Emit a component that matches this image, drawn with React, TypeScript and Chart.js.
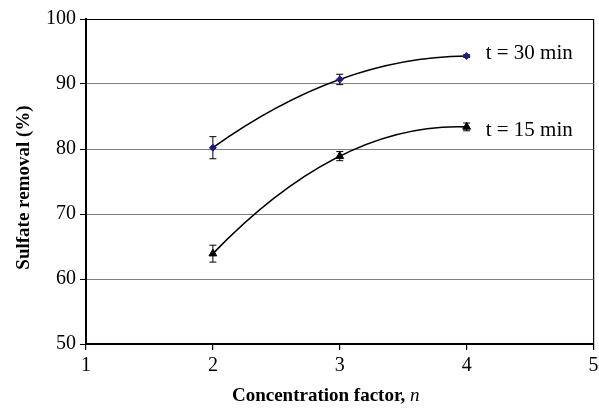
import React, { useEffect, useRef } from "react";
import { Chart, registerables } from "chart.js";

Chart.register(...registerables);

const concentrationFactors = [2, 3, 4];
const removal30 = [80.2, 90.7, 94.3];
const error30 = [1.7, 0.8, 0.2];
const removal15 = [63.9, 78.9, 83.4];
const error15 = [1.3, 0.7, 0.6];
const seriesLabels = ["t = 30 min", "t = 15 min"];
const xRange = [1, 5];
const yRange = [50, 100];
const xTitleMain = "Concentration factor, ";
const xTitleItalic = "n";
const yTitle = "Sulfate removal (%)";

const FONT = "'Liberation Serif', 'Times New Roman', serif";
const labelDy = [-3, 4];

// Second-order polynomial trendline through each series, drawn as one exact quadratic Bezier
const trendlinePlugin = {
  id: "trendline",
  beforeDatasetsDraw(chart: any) {
    const ctx = chart.ctx;
    const xs = chart.scales.x;
    const ys = chart.scales.y;
    chart.data.datasets.forEach((ds: any) => {
      const pts = ds.data;
      if (pts.length < 3) return;
      const [p0, p1, p2] = [pts[0], pts[Math.floor(pts.length / 2)], pts[pts.length - 1]];
      const d0 =
        p0.y * ((2 * p0.x - p1.x - p2.x) / ((p0.x - p1.x) * (p0.x - p2.x))) +
        p1.y * ((p0.x - p2.x) / ((p1.x - p0.x) * (p1.x - p2.x))) +
        p2.y * ((p0.x - p1.x) / ((p2.x - p0.x) * (p2.x - p1.x)));
      const cx = (p0.x + p2.x) / 2;
      const cy = p0.y + d0 * (cx - p0.x);
      ctx.save();
      ctx.strokeStyle = "#000";
      ctx.lineWidth = 1.6;
      ctx.beginPath();
      ctx.moveTo(xs.getPixelForValue(p0.x), ys.getPixelForValue(p0.y));
      ctx.quadraticCurveTo(
        xs.getPixelForValue(cx),
        ys.getPixelForValue(cy),
        xs.getPixelForValue(p2.x),
        ys.getPixelForValue(p2.y)
      );
      ctx.stroke();
      ctx.restore();
    });
  },
};

const errorBarsPlugin = {
  id: "errorBars",
  beforeDatasetsDraw(chart: any) {
    const ctx = chart.ctx;
    const ys = chart.scales.y;
    chart.data.datasets.forEach((ds: any, i: number) => {
      const meta = chart.getDatasetMeta(i);
      meta.data.forEach((pt: any, j: number) => {
        const v = ds.data[j].y;
        const e = ds.errors[j];
        const x = pt.x;
        const y1 = ys.getPixelForValue(v + e);
        const y2 = ys.getPixelForValue(v - e);
        ctx.save();
        ctx.strokeStyle = "#000";
        ctx.lineWidth = 1;
        ctx.beginPath();
        ctx.moveTo(x, y1);
        ctx.lineTo(x, y2);
        ctx.moveTo(x - 3.5, y1);
        ctx.lineTo(x + 3.5, y1);
        ctx.moveTo(x - 3.5, y2);
        ctx.lineTo(x + 3.5, y2);
        ctx.stroke();
        ctx.restore();
      });
    });
  },
};

const seriesLabelPlugin = {
  id: "seriesLabels",
  afterDatasetsDraw(chart: any) {
    const ctx = chart.ctx;
    chart.data.datasets.forEach((ds: any, i: number) => {
      const meta = chart.getDatasetMeta(i);
      const last = meta.data[meta.data.length - 1];
      ctx.save();
      ctx.font = `21px ${FONT}`;
      ctx.fillStyle = "#000";
      ctx.textAlign = "left";
      ctx.textBaseline = "middle";
      ctx.fillText(ds.label, last.x + 19, last.y + labelDy[i]);
      ctx.restore();
    });
  },
};

const titlesPlugin = {
  id: "axisTitles",
  afterDraw(chart: any) {
    const ctx = chart.ctx;
    const ca = chart.chartArea;
    ctx.save();
    ctx.fillStyle = "#000";
    ctx.textBaseline = "middle";
    const boldFont = `bold 19px ${FONT}`;
    const italicFont = `italic 19px ${FONT}`;
    ctx.font = boldFont;
    const w1 = ctx.measureText(xTitleMain).width;
    ctx.font = italicFont;
    const w2 = ctx.measureText(xTitleItalic).width;
    const cx = (ca.left + ca.right) / 2 - 14;
    const startX = cx - (w1 + w2) / 2;
    const ty = 396;
    ctx.textAlign = "left";
    ctx.font = boldFont;
    ctx.fillText(xTitleMain, startX, ty);
    ctx.font = italicFont;
    ctx.fillText(xTitleItalic, startX + w1, ty);
    ctx.translate(24, (ca.top + ca.bottom) / 2 + 6);
    ctx.rotate(-Math.PI / 2);
    ctx.textAlign = "center";
    ctx.font = boldFont;
    ctx.fillText(yTitle, 0, 0);
    ctx.restore();
  },
};

export default function App() {
  const ref = useRef<HTMLCanvasElement | null>(null);

  useEffect(() => {
    document.body.style.margin = "0";
    const canvas = ref.current;
    if (!canvas) return;
    const chart = new Chart(canvas, {
      type: "line",
      data: {
        datasets: [
          {
            label: seriesLabels[0],
            data: concentrationFactors.map((x, i) => ({ x, y: removal30[i] })),
            errors: error30,
            showLine: false,
            pointStyle: "rectRot",
            pointRadius: 3.5,
            pointBackgroundColor: "#1c1c86",
            pointBorderColor: "#1c1c86",
            pointBorderWidth: 1,
          } as any,
          {
            label: seriesLabels[1],
            data: concentrationFactors.map((x, i) => ({ x, y: removal15[i] })),
            errors: error15,
            showLine: false,
            pointStyle: "triangle",
            pointRadius: 4.5,
            pointBackgroundColor: "#000",
            pointBorderColor: "#000",
            pointBorderWidth: 1,
          } as any,
        ],
      },
      options: {
        responsive: false,
        animation: false,
        devicePixelRatio: 1,
        layout: { padding: { top: 19, right: 2, left: 0, bottom: 0 } },
        plugins: {
          legend: { display: false },
          tooltip: { enabled: false },
        },
        scales: {
          x: {
            type: "linear",
            min: xRange[0],
            max: xRange[1],
            ticks: {
              stepSize: 1,
              color: "#000",
              font: { family: FONT, size: 20 },
              padding: 4,
            },
            grid: {
              color: (c: any) => (c.tick && c.tick.value === xRange[1] ? "#000" : "rgba(0,0,0,0)"),
              tickColor: "#000",
              tickLength: 6,
              lineWidth: 1.2,
            },
            border: { color: "#000", width: 2 },
            afterFit: (s: any) => {
              s.height = 66;
              s.paddingLeft = 0;
              s.paddingRight = 0;
            },
          },
          y: {
            type: "linear",
            min: yRange[0],
            max: yRange[1],
            ticks: {
              stepSize: 10,
              color: "#000",
              font: { family: FONT, size: 20 },
              padding: 4,
            },
            grid: {
              color: (c: any) => {
                const v = c.tick ? c.tick.value : 0;
                if (v === yRange[1]) return "#000";
                if (v === yRange[0]) return "rgba(0,0,0,0)";
                return "#808080";
              },
              tickColor: "#000",
              tickLength: 6,
              lineWidth: 1,
            },
            border: { color: "#000", width: 2 },
            afterFit: (s: any) => {
              s.width = 86;
              s.paddingTop = 0;
              s.paddingBottom = 0;
            },
          },
        },
      } as any,
      plugins: [trendlinePlugin, errorBarsPlugin, seriesLabelPlugin, titlesPlugin],
    });
    return () => chart.destroy();
  }, []);

  return (
    <div style={{ position: "fixed", left: 0, top: 0, width: 599, height: 410, background: "#fff" }}>
      <canvas ref={ref} width={599} height={410} style={{ display: "block" }} />
    </div>
  );
}
